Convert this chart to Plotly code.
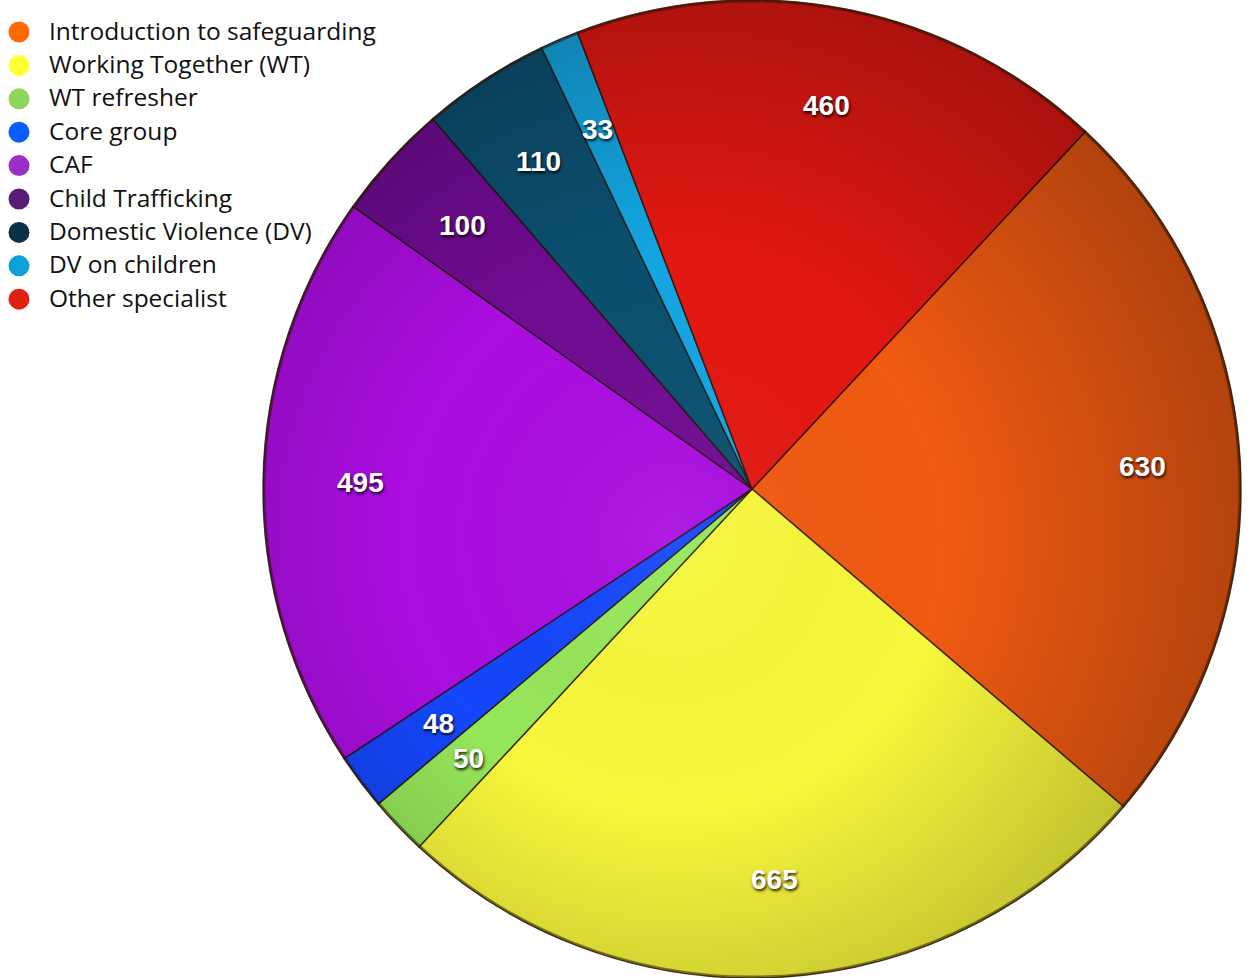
import base64
import math
import plotly.graph_objects as go

# Training courses and number of attendees
categories = [
    "Introduction to safeguarding",
    "Working Together (WT)",
    "WT refresher",
    "Core group",
    "CAF",
    "Child Trafficking",
    "Domestic Violence (DV)",
    "DV on children",
    "Other specialist",
]
attendees = [630, 665, 50, 48, 495, 100, 110, 33, 460]

slice_colors = [
    "#f05a12", "#f7f73c", "#96e65a", "#1446fa", "#aa0ee0",
    "#700c92", "#0c5070", "#14a6e2", "#e41812",
]
legend_colors = [
    "#ff6a00", "#ffff33", "#8fd65a", "#0a5cff", "#9b30c8",
    "#5a1a78", "#0a3048", "#10a0d8", "#e02010",
]

W, H = 1254, 978
cx_px, radius_px = 752, 489
start_angle = 43  # degrees clockwise from 12 o'clock

fig = go.Figure()
fig.add_trace(go.Pie(
    labels=categories,
    values=attendees,
    sort=False,
    direction="clockwise",
    rotation=start_angle,
    marker=dict(colors=slice_colors,
                line=dict(color="rgba(30,15,0,0.75)", width=1.5)),
    textinfo="none",
    hoverinfo="label+value",
    showlegend=False,
    domain=dict(x=[(cx_px - radius_px) / W, (cx_px + radius_px) / W], y=[0, 1]),
))

# Soft lighting over the disc: bright near the hub, darker toward the rim
shade_svg = (
    '<svg xmlns="http://www.w3.org/2000/svg" width="1000" height="1000" viewBox="0 0 1000 1000">'
    '<defs>'
    '<radialGradient id="g" cx="0.42" cy="0.55" r="0.62">'
    '<stop offset="0" stop-color="#fff" stop-opacity="0.06"/>'
    '<stop offset="0.45" stop-color="#000" stop-opacity="0.0"/>'
    '<stop offset="1" stop-color="#000" stop-opacity="0.28"/>'
    '</radialGradient>'
    '</defs>'
    '<circle cx="500" cy="500" r="499" fill="url(#g)" stroke="rgba(40,20,0,0.55)" stroke-width="3"/>'
    '</svg>'
)
shade_uri = "data:image/svg+xml;base64," + base64.b64encode(shade_svg.encode()).decode()

# Value labels placed along each slice's bisector
total = sum(attendees)
cum = 0
annotations = []
for cat, val in zip(categories, attendees):
    mid = math.radians(start_angle + (cum + val / 2) / total * 360)
    cum += val
    rr = 0.8 * radius_px
    annotations.append(dict(
        x=(cx_px + rr * math.sin(mid)) / W,
        y=0.5 + rr * math.cos(mid) / H,
        xref="paper", yref="paper",
        text=str(val), showarrow=False,
        xanchor="center", yanchor="middle",
        font=dict(family="Liberation Sans", size=28, color="white",
                  weight="bold", shadow="1px 2px 3px rgba(0,0,0,0.85)"),
    ))

# Legend: coloured dots with course names
shapes = []
row0, pitch = 32, 33.4
for i, (cat, col) in enumerate(zip(categories, legend_colors)):
    yc = 1 - (row0 + i * pitch) / H
    shapes.append(dict(
        type="circle", xref="paper", yref="paper",
        xsizemode="pixel", ysizemode="pixel",
        xanchor=19 / W, yanchor=yc,
        x0=-10.5, x1=10.5, y0=-10.5, y1=10.5,
        fillcolor=col, line=dict(width=0),
    ))
    annotations.append(dict(
        x=47 / W, y=yc + 2 / H, xref="paper", yref="paper",
        text=cat, showarrow=False,
        xanchor="left", yanchor="middle",
        font=dict(family="Open Sans", size=24.5, color="#111111"),
    ))

fig.update_layout(
    width=W, height=H,
    margin=dict(l=0, r=0, t=0, b=0),
    paper_bgcolor="white",
    plot_bgcolor="white",
    annotations=annotations,
    shapes=shapes,
    images=[dict(
        source=shade_uri, xref="paper", yref="paper",
        x=(cx_px - radius_px) / W, y=1,
        sizex=2 * radius_px / W, sizey=1,
        xanchor="left", yanchor="top",
        sizing="stretch", layer="above",
    )],
)

fig.write_html("out.html")
